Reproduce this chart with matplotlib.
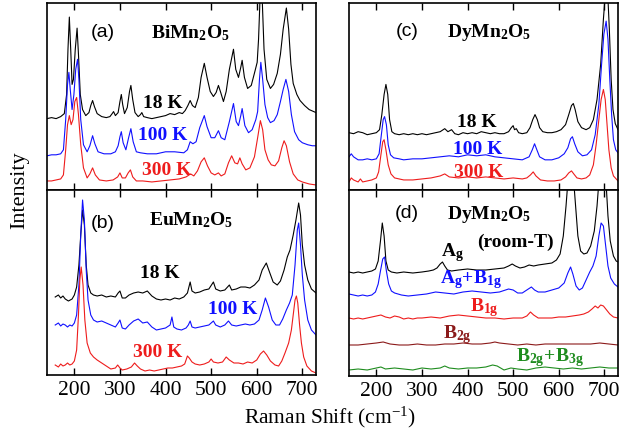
import matplotlib
matplotlib.use("Agg")
import matplotlib.pyplot as plt

plt.rcParams['font.family'] = ['Liberation Serif', 'DejaVu Serif']
plt.rcParams['mathtext.fontset'] = 'custom'
plt.rcParams['mathtext.rm'] = 'Liberation Serif'
plt.rcParams['mathtext.bf'] = 'Liberation Serif:bold'
plt.rcParams['mathtext.it'] = 'Liberation Serif:italic'

# spectra as (Raman shift, intensity) pairs
bi_18k = [(140,71),(150,72),(160,71),(170,73),(178,76),(183,95),(186,140),(189,172),(192,140),(195,105),(198,110),(202,140),(206,161),(209,135),(213,95),(218,80),(225,74),(232,77),(236,84),(240,89),(244,83),(250,76),(260,73),(270,72),(278,73),(283,76),(286,78),(290,74),(296,77),(300,88),(303,95),(306,85),(310,76),(316,82),(321,98),(324,104),(328,90),(333,77),(340,73),(345,75),(348,77),(352,73),(360,72),(370,71),(380,72),(390,73),(400,74),(410,76),(420,75),(430,77),(437,76),(443,79),(449,84),(454,89),(459,84),(465,82),(472,92),(478,112),(485,126),(491,112),(498,98),(505,93),(511,97),(516,104),(521,97),(527,88),(533,98),(540,120),(549,140),(554,120),(560,112),(565,122),(568,129),(573,112),(580,101),(588,104),(596,118),(601,127),(604,150),(608,200),(612,190),(616,140),(622,110),(630,101),(637,105),(645,116),(652,135),(658,160),(665,181),(670,160),(675,125),(680,106),(688,95),(695,89),(705,84),(715,80),(725,78),(730,77)]
bi_100k = [(140,34),(150,35),(160,35),(170,36),(176,40),(181,70),(185,105),(188,117),(191,100),(195,80),(199,95),(203,120),(207,130),(210,110),(214,70),(220,45),(228,38),(234,44),(240,54),(245,46),(252,38),(265,36),(280,36),(290,38),(296,44),(300,53),(303,58),(307,47),(313,40),(319,52),(324,61),(329,48),(336,38),(345,37),(360,36),(380,36),(400,38),(420,38),(440,37),(448,40),(454,48),(460,46),(467,48),(475,62),(485,74),(491,63),(500,52),(508,52),(516,59),(522,52),(530,50),(540,68),(549,86),(555,68),(560,64),(565,74),(568,81),(574,64),(582,57),(590,60),(598,70),(602,78),(606,110),(609,127),(613,110),(618,85),(624,72),(630,67),(638,69),(645,75),(652,88),(658,100),(664,110),(670,98),(676,75),(683,58),(692,50),(700,47),(712,45),(722,44),(730,44)]
bi_300k = [(140,9),(150,9),(160,10),(170,11),(176,15),(181,40),(185,65),(189,74),(193,65),(197,70),(201,88),(205,92),(209,75),(214,45),(220,22),(228,12),(234,16),(240,22),(246,15),(255,10),(270,9),(285,10),(295,13),(300,17),(305,12),(312,12),(318,17),(323,20),(328,13),(336,9),(350,9),(370,8),(390,9),(410,10),(430,11),(445,13),(455,16),(462,14),(470,19),(478,28),(485,32),(492,24),(500,17),(508,15),(516,17),(522,14),(530,16),(538,27),(545,34),(552,27),(558,26),(563,32),(568,26),(576,20),(585,22),(595,33),(602,52),(608,69),(613,60),(618,40),(625,30),(632,25),(640,24),(648,29),(655,42),(660,49),(665,44),(672,28),(680,16),(690,10),(700,8),(715,6),(730,5)]

eu_18k = [(158,78),(165,80),(170,77),(175,79),(180,76),(187,74),(195,76),(200,80),(205,88),(210,110),(214,140),(218,165),(222,150),(226,110),(230,90),(236,82),(242,80),(250,79),(260,80),(270,78),(280,79),(290,78),(296,82),(300,84),(305,77),(312,77),(320,80),(330,82),(340,83),(350,82),(360,84),(370,79),(380,76),(390,75),(400,76),(410,75),(420,77),(430,76),(440,78),(448,82),(454,93),(458,84),(465,82),(475,83),(485,85),(495,86),(505,93),(510,86),(520,84),(530,85),(540,90),(545,85),(555,86),(565,88),(575,88),(585,87),(595,90),(605,95),(612,105),(621,112),(628,103),(636,93),(645,90),(652,94),(660,105),(667,118),(673,125),(680,140),(686,155),(692,172),(696,160),(700,130),(705,110),(712,95),(720,86),(730,82)]
eu_100k = [(158,50),(165,52),(170,49),(175,51),(180,50),(185,48),(190,50),(195,49),(200,52),(205,60),(210,90),(214,140),(218,175),(222,155),(226,105),(230,75),(236,60),(242,55),(250,53),(260,54),(270,52),(280,50),(290,48),(296,52),(300,55),(305,47),(312,46),(320,50),(330,54),(340,56),(350,52),(360,53),(370,48),(380,45),(390,46),(400,47),(410,50),(414,58),(418,48),(425,46),(435,45),(445,47),(450,50),(454,54),(458,48),(465,47),(475,48),(485,49),(495,50),(505,54),(510,50),(520,48),(530,50),(538,54),(545,50),(555,49),(565,50),(575,51),(585,50),(595,51),(605,55),(612,65),(619,77),(626,68),(634,55),(642,50),(650,50),(657,56),(665,65),(672,72),(678,80),(684,110),(689,145),(692,152),(696,130),(700,100),(705,75),(712,55),(720,45),(730,40)]
eu_300k = [(158,10),(165,8),(170,11),(175,9),(180,10),(185,12),(190,10),(195,11),(200,14),(205,25),(209,60),(212,95),(215,108),(219,90),(223,55),(228,32),(235,22),(242,18),(250,15),(260,12),(270,9),(280,6),(290,7),(295,10),(300,7),(305,5),(315,6),(325,8),(332,12),(338,9),(345,6),(355,4),(365,5),(375,4),(385,5),(395,6),(405,7),(415,7),(425,8),(435,9),(442,11),(448,19),(452,17),(458,13),(465,11),(475,10),(485,11),(495,13),(500,16),(505,13),(515,12),(525,13),(533,18),(540,15),(550,12),(560,12),(570,11),(580,13),(590,12),(600,15),(608,21),(615,24),(622,20),(630,14),(640,10),(648,9),(655,14),(662,22),(670,32),(676,45),(680,60),(684,75),(687,79),(690,72),(694,50),(698,32),(703,18),(710,9),(720,4),(730,2)]

dy_18k = [(140,57),(150,56),(160,58),(170,57),(180,55),(190,56),(200,57),(207,60),(212,75),(217,95),(221,105),(225,95),(229,70),(234,58),(240,56),(250,55),(260,56),(270,55),(280,56),(290,55),(300,56),(310,55),(320,56),(330,57),(340,58),(350,61),(357,58),(365,60),(372,56),(380,55),(390,57),(400,56),(410,57),(420,56),(430,58),(440,57),(450,56),(460,57),(470,56),(480,56),(490,58),(496,62),(500,64),(503,60),(507,61),(512,57),(520,56),(530,57),(537,62),(543,70),(548,75),(553,70),(558,62),(565,58),(575,57),(585,57),(595,58),(605,60),(615,65),(622,75),(628,84),(632,86),(636,80),(642,68),(650,62),(660,60),(668,62),(676,70),(684,90),(692,125),(698,170),(703,200),(707,200),(711,160),(715,110),(719,80),(724,66),(730,60)]
dy_100k = [(140,33),(145,36),(150,33),(160,30),(170,30),(180,31),(190,30),(200,31),(206,36),(211,55),(215,70),(218,73),(222,65),(226,45),(231,35),(238,32),(250,31),(260,30),(280,31),(300,31),(320,32),(340,33),(360,34),(380,33),(400,35),(420,34),(440,35),(460,33),(480,32),(500,31),(520,30),(535,33),(542,40),(547,46),(552,40),(558,33),(570,30),(585,30),(600,32),(612,36),(620,42),(626,51),(630,53),(635,46),(642,38),(652,34),(662,35),(672,40),(680,55),(688,85),(694,125),(699,155),(704,168),(708,150),(712,110),(716,75),(720,50),(725,40),(730,37)]
dy_300k = [(140,8),(145,12),(150,10),(160,8),(165,11),(170,8),(180,9),(190,10),(200,12),(205,18),(210,35),(214,48),(217,50),(221,40),(226,25),(232,16),(240,12),(250,11),(260,10),(280,10),(300,11),(320,12),(340,14),(350,16),(360,13),(380,12),(400,13),(420,12),(440,13),(460,12),(480,11),(500,12),(520,11),(530,12),(538,15),(544,18),(550,14),(560,10),(575,9),(590,9),(605,10),(615,13),(622,17),(628,19),(633,16),(640,12),(650,11),(660,12),(668,15),(676,25),(682,45),(688,70),(693,90),(698,100),(702,90),(706,65),(710,40),(715,22),(720,14),(730,9)]

dy_ag = [(140,104),(150,103),(160,104),(170,103),(180,104),(190,105),(198,107),(204,115),(209,135),(213,153),(217,140),(221,115),(226,106),(233,104),(245,103),(260,104),(280,103),(300,104),(315,105),(325,106),(333,108),(340,112),(345,114),(350,110),(356,106),(365,105),(380,106),(400,107),(420,106),(440,106),(460,107),(480,108),(490,110),(498,112),(505,110),(515,108),(525,109),(535,111),(545,110),(555,111),(570,112),(585,113),(595,116),(603,122),(610,140),(616,170),(621,200),(627,210),(632,200),(637,170),(642,140),(648,125),(655,122),(662,123),(670,130),(678,145),(684,170),(689,200),(693,210),(698,210),(703,200),(708,160),(713,135),(720,120),(726,115),(730,114)]
dy_ag_b1g = [(140,82),(150,81),(160,80),(170,81),(180,80),(190,81),(198,84),(204,92),(209,105),(214,117),(218,119),(222,105),(227,92),(233,85),(240,83),(255,81),(270,80),(290,81),(310,82),(330,84),(350,83),(370,82),(390,84),(410,85),(430,84),(450,83),(470,84),(490,87),(500,86),(510,83),(520,83),(530,86),(540,89),(547,86),(555,84),(570,84),(585,86),(600,88),(612,93),(620,103),(626,109),(631,102),(638,90),(645,86),(652,88),(660,96),(668,104),(675,110),(682,120),(688,140),(693,153),(698,150),(703,130),(708,110),(714,98),(722,92),(730,89)]
dy_b1g = [(140,58),(150,57),(160,58),(170,57),(180,58),(190,59),(200,60),(210,61),(220,59),(230,58),(240,60),(250,59),(260,57),(270,58),(280,57),(290,58),(300,58),(320,59),(340,58),(360,60),(380,61),(400,60),(420,59),(440,58),(460,58),(480,57),(500,58),(520,58),(530,60),(538,64),(545,61),(555,58),(570,58),(585,58),(600,59),(615,59),(630,60),(645,61),(655,62),(665,64),(673,67),(680,70),(686,68),(692,71),(698,70),(705,66),(712,62),(720,59),(730,58)]
dy_b2g = [(140,31),(160,31),(180,32),(200,33),(215,34),(230,32),(250,31),(270,31),(290,32),(310,31),(330,31),(350,32),(370,32),(390,33),(410,32),(430,32),(450,33),(460,34),(470,33),(490,32),(510,31),(530,32),(550,31),(570,32),(590,32),(610,32),(630,32),(650,32),(670,32),(690,33),(710,32),(730,31)]
dy_b2g_b3g = [(140,6),(160,7),(180,6),(200,8),(210,9),(220,7),(240,8),(260,7),(280,6),(300,8),(320,7),(340,8),(350,10),(360,8),(380,7),(400,8),(420,8),(440,9),(455,11),(465,10),(480,6),(495,8),(510,7),(530,6),(550,8),(570,9),(590,8),(610,7),(630,8),(650,7),(670,8),(690,9),(710,8),(730,8)]

xticks = [200, 300, 400, 500, 600, 700]

BLACK = 'black'
BLUE = '#1010ff'
RED = '#ee1c1c'
DARKRED = '#8b1a1a'
GREEN = '#1e8c1e'

fig = plt.figure(figsize=(6.36, 4.36), dpi=100)
W, H = 636.0, 436.0


def make_axes(x0, x1, ytop, ybot):
    return fig.add_axes([x0 / W, 1 - ybot / H, (x1 - x0) / W, (ybot - ytop) / H])


ax_a = make_axes(47, 316, 3, 190)
ax_b = make_axes(47, 316, 190, 375)
ax_c = make_axes(349, 618, 3, 190)
ax_d = make_axes(349, 618, 190, 376)

panels = [
    (ax_a, 186, [(bi_18k, BLACK), (bi_100k, BLUE), (bi_300k, RED)]),
    (ax_b, 185, [(eu_18k, BLACK), (eu_100k, BLUE), (eu_300k, RED)]),
    (ax_c, 186, [(dy_18k, BLACK), (dy_100k, BLUE), (dy_300k, RED)]),
    (ax_d, 186, [(dy_ag, BLACK), (dy_ag_b1g, BLUE), (dy_b1g, RED),
                 (dy_b2g, DARKRED), (dy_b2g_b3g, GREEN)]),
]

for ax, ytop, curves in panels:
    for data, col in curves:
        xs = [p[0] for p in data]
        ys = [p[1] for p in data]
        ax.plot(xs, ys, color=col, lw=0.8)
    ax.set_xlim(140, 730)
    ax.set_ylim(0, ytop)
    ax.set_yticks([])
    ax.set_xticks(xticks)
    ax.tick_params(axis='x', direction='in', top=True, bottom=True, length=5,
                   width=1, labelsize=15.5, pad=4)
    for s in ax.spines.values():
        s.set_linewidth(1.2)

ax_a.tick_params(labelbottom=False)
ax_c.tick_params(labelbottom=False)

bold = dict(fontsize=14, fontweight='bold', ha='center', va='center')
sans = dict(fontsize=14, family='Liberation Sans', ha='center', va='center')

ax_a.text(263, 157, '(a)', **sans)
ax_a.text(455, 156, r'$\mathbf{BiMn_2O_5}$', **bold)
ax_a.text(394, 86, '18 K', color=BLACK, **bold)
ax_a.text(394, 54, '100 K', color=BLUE, **bold)
ax_a.text(403, 19, '300 K', color=RED, **bold)

ax_b.text(263, 152, '(b)', **sans)
ax_b.text(455, 155, r'$\mathbf{EuMn_2O_5}$', **bold)
ax_b.text(388, 102, '18 K', color=BLACK, **bold)
ax_b.text(548, 65, '100 K', color=BLUE, **bold)
ax_b.text(383, 23, '300 K', color=RED, **bold)

ax_c.text(267, 158, '(c)', **sans)
ax_c.text(447, 157, r'$\mathbf{DyMn_2O_5}$', **bold)
ax_c.text(421, 67, '18 K', color=BLACK, **bold)
ax_c.text(423, 40, '100 K', color=BLUE, **bold)
ax_c.text(425, 17, '300 K', color=RED, **bold)

ax_d.text(267, 163, '(d)', **sans)
ax_d.text(447, 162, r'$\mathbf{DyMn_2O_5}$', **bold)
ax_d.text(506, 134, '(room-T)', **bold)
ax_d.text(368, 123, r'$\mathbf{A_g}$', color=BLACK, **bold)
ax_d.text(408, 96, r'$\mathbf{A_g\!+\!B_{1g}}$', color=BLUE, **bold)
ax_d.text(436, 68, r'$\mathbf{B_{1g}}$', color=RED, **bold)
ax_d.text(377, 41, r'$\mathbf{B_{2g}}$', color=DARKRED, **bold)
ax_d.text(581, 18, r'$\mathbf{B_{2g}\!+\!B_{3g}}$', color=GREEN, **bold)

fig.text(20 / W, 1 - 190 / H, 'Intensity', rotation=90, fontsize=16,
         ha='center', va='center')
fig.text(330 / W, 1 - 417 / H, r'Raman Shift (cm$^{-1}$)', fontsize=15.5,
         ha='center', va='center')

fig.savefig('out.png', dpi=100)
